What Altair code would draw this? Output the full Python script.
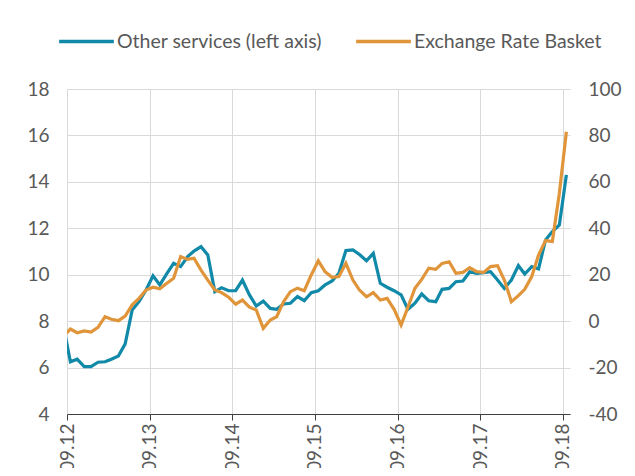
import altair as alt
import pandas as pd

# Monthly observations (mid-month), Aug 2012 .. Sep 2018
months = pd.date_range("2012-08-01", periods=74, freq="MS")
dates = [(m + pd.Timedelta(days=15)).strftime("%Y-%m-%d") for m in months]

services = [
    7.80, 6.25, 6.36, 6.04, 6.04, 6.23, 6.25, 6.36, 6.50, 7.02,
    8.48, 8.84, 9.34, 9.95, 9.56, 10.05, 10.49, 10.35, 10.78, 11.02,
    11.21, 10.85, 9.27, 9.44, 9.31, 9.31, 9.77, 9.13, 8.65, 8.86,
    8.55, 8.51, 8.74, 8.77, 9.06, 8.88, 9.23, 9.31, 9.56, 9.73,
    10.06, 11.04, 11.07, 10.87, 10.60, 10.92, 9.63, 9.46, 9.31, 9.13,
    8.51, 8.77, 9.17, 8.88, 8.84, 9.37, 9.41, 9.70, 9.73, 10.13,
    10.06, 10.09, 10.13, 9.77, 9.41, 9.77, 10.39, 10.03, 10.35, 10.25,
    11.50, 11.86, 12.14, 14.30,
]

basket = [
    -6.5, -3.4, -5.0, -4.2, -4.7, -2.65, 1.9, 0.8, 0.2, 2.2,
    7.0, 9.8, 13.4, 14.6, 13.9, 16.3, 18.5, 27.8, 26.6, 27.1,
    22.0, 17.7, 13.4, 12.3, 10.3, 7.3, 9.1, 6.0, 4.8, -3.1,
    0.5, 1.9, 8.4, 12.7, 14.2, 13.1, 19.9, 26.0, 21.3, 18.9,
    19.2, 24.9, 17.7, 13.4, 10.5, 12.3, 9.1, 9.8, 5.1, -1.7,
    6.0, 14.2, 18.0, 22.8, 22.3, 24.9, 25.6, 20.6, 21.0, 23.0,
    21.3, 21.0, 23.5, 23.9, 17.7, 8.4, 11.0, 13.7, 19.2, 28.5,
    34.7, 34.3, 55.1, 81.6,
]

left_ticks = [4, 6, 8, 10, 12, 14, 16, 18]
right_ticks = [-40, -20, 0, 20, 40, 60, 80, 100]
tick_years = [2012, 2013, 2014, 2015, 2016, 2017, 2018]

SERIES = ["Other services (left axis)", "Exchange Rate Basket"]
COLORS = ["#1189a8", "#e0953a"]

df = pd.DataFrame({"date": dates, "services": services, "basket": basket})

FONT = "Lato"
TXT = "#595959"
GRID = "#d9d9d9"
FS = 19

x_enc = alt.X(
    "date:T",
    scale=alt.Scale(
        type="utc",
        domain=[
            alt.DateTime(year=2012, month=9, date=1, utc=True),
            alt.DateTime(year=2018, month=10, date=2, utc=True),
        ],
    ),
    axis=alt.Axis(
        values=[alt.DateTime(year=y, month=9, date=1, utc=True) for y in tick_years],
        labelExpr="utcFormat(datum.value, '%m.%y')",
        labelAngle=-90,
        title=None,
        grid=True,
        gridColor=GRID,
        gridWidth=1,
        domainColor="#404040",
        tickColor="#404040",
        tickSize=6,
        labelPadding=3,
        labelFontSize=FS,
        labelFont=FONT,
        labelColor=TXT,
    ),
)

color_enc = alt.Color(
    "series:N",
    scale=alt.Scale(domain=SERIES, range=COLORS),
    legend=alt.Legend(
        orient="none",
        direction="horizontal",
        legendX=-10,
        legendY=-77,
        title=None,
        symbolType="stroke",
        symbolSize=3000,
        symbolStrokeWidth=3.5,
        labelFontSize=19.5,
        labelFont=FONT,
        labelColor=TXT,
        labelLimit=400,
        columnPadding=27,
        labelOffset=1,
    ),
)

base = alt.Chart(df)

left = base.transform_calculate(series="'" + SERIES[0] + "'").mark_line(
    strokeWidth=3.2, clip=True
).encode(
    x=x_enc,
    y=alt.Y(
        "services:Q",
        scale=alt.Scale(domain=[4, 18], nice=False, zero=False),
        axis=alt.Axis(
            values=left_ticks,
            labelExpr="'' + datum.value",
            orient="left",
            title=None,
            grid=True,
            gridColor=GRID,
            domain=False,
            ticks=False,
            labelPadding=18,
            labelFontSize=FS,
            labelFont=FONT,
            labelColor=TXT,
        ),
    ),
    color=color_enc,
)

right = base.transform_calculate(series="'" + SERIES[1] + "'").mark_line(
    strokeWidth=3.2, clip=True
).encode(
    x=x_enc,
    y=alt.Y(
        "basket:Q",
        scale=alt.Scale(domain=[-40, 100], nice=False, zero=False),
        axis=alt.Axis(
            values=right_ticks,
            labelExpr="'' + datum.value",
            orient="right",
            title=None,
            grid=False,
            domain=False,
            ticks=False,
            labelPadding=18,
            labelFontSize=FS,
            labelFont=FONT,
            labelColor=TXT,
        ),
    ),
    color=color_enc,
)

chart = (
    alt.layer(left, right)
    .resolve_scale(y="independent")
    .properties(
        width=503,
        height=325,
        padding={"left": 59, "top": 81, "right": 57, "bottom": 54},
        autosize="none",
    )
    .configure_view(stroke=None)
)

chart.save("out.html", embed_options={"renderer": "svg", "actions": False})
